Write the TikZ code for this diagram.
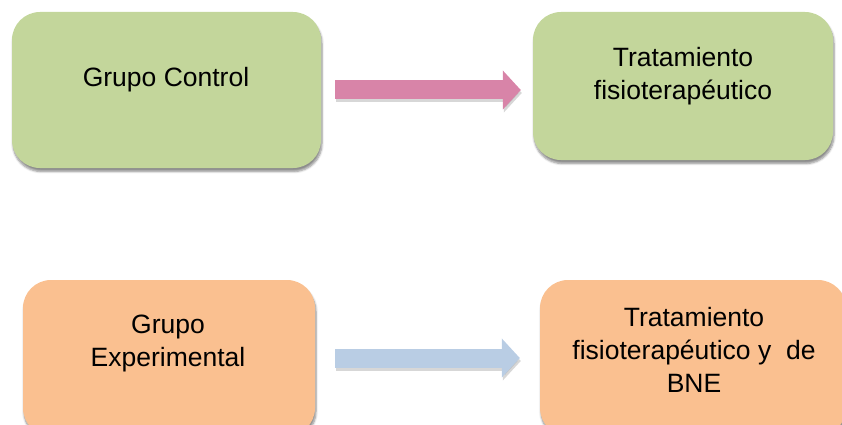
\documentclass[tikz,border=0pt]{standalone}
\usepackage{fontspec}
\setmainfont{Liberation Sans}
\usetikzlibrary{arrows.meta,calc,shadows.blur}
\definecolor{boxgreen}{RGB}{195,214,155}
\definecolor{boxorange}{RGB}{250,192,144}
\definecolor{arrpink}{RGB}{216,132,168}
\definecolor{arrblue}{RGB}{185,205,228}
\tikzset{
  boxbase/.style={rectangle, rounded corners=28pt, inner sep=0pt,
    blur shadow={shadow xshift=1pt, shadow yshift=-3.5pt, shadow blur steps=6, shadow opacity=45}},
  greenbox/.style={boxbase, fill=boxgreen},
  orangebox/.style={boxbase, fill=boxorange},
  lbl/.style={align=center, inner sep=0pt, font=\fontsize{26.5}{33}\selectfont},
  fatarrow/.style={line width=19pt, draw=#1,
    -{Triangle[width=38pt,length=18pt]},
    preaction={draw=black!35, opacity=0.45, line width=19pt,
      -{Triangle[width=38pt,length=18pt]}, transform canvas={xshift=1pt,yshift=-3pt}}}
}
\begin{document}
\begin{tikzpicture}[x=1pt,y=-1pt]
\useasboundingbox (0,0) rectangle (842,425);
\clip (0,0) rectangle (842,425);
% boxes
\node[greenbox, minimum width=309pt, minimum height=156pt] (gc) at (166.5,90) {};
\node[greenbox, minimum width=300pt, minimum height=148pt] (tf) at (683,86) {};
\node[orangebox, minimum width=292pt, minimum height=156pt] (ge) at (169,358) {};
\node[orangebox, minimum width=306pt, minimum height=156pt] (tb) at (693,358) {};
% labels
\node[lbl] (gct) at (166,80) {Grupo Control};
\node[lbl] (tft) at (683,76.5) {Tratamiento\\fisioterapéutico};
\node[lbl] (get) at (168,343.5) {Grupo\\Experimental};
\node[lbl] (tbt) at (694,350) {Tratamiento\\fisioterapéutico y~~de\\BNE};
% arrows
\draw[fatarrow=arrpink] ([xshift=14pt]gc.east) -- ([xshift=-12pt]gc.east -| tf.west);
\draw[fatarrow=arrblue] ([xshift=20pt]ge.east) -- ([xshift=-20pt]ge.east -| tb.west);
\end{tikzpicture}
\end{document}
